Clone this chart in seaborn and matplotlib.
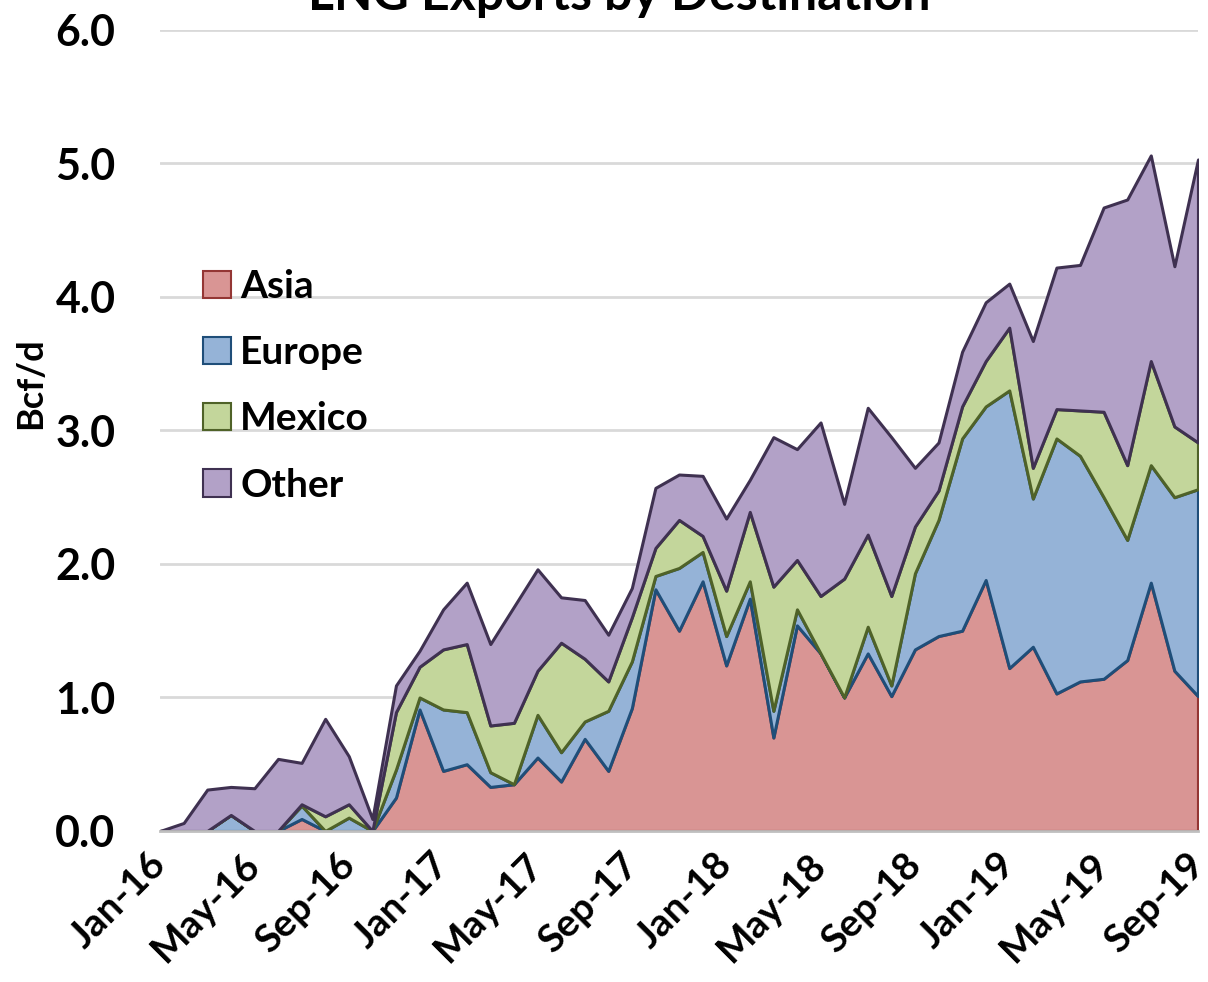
import numpy as np
import pandas as pd
import seaborn as sns
import matplotlib.pyplot as plt
from matplotlib.patches import Patch

# --- Data (Bcf/d), monthly Jan-16 .. Sep-19 ---
months = pd.date_range("2016-01-01", periods=45, freq="MS")

asia = [0, 0, 0, 0, 0, 0, 0.09, 0, 0, 0,
        0.25, 0.91, 0.45, 0.50, 0.33, 0.35, 0.55, 0.37, 0.69, 0.45,
        0.92, 1.81, 1.50, 1.87, 1.24, 1.74, 0.70, 1.54, 1.33, 1.00,
        1.33, 1.01, 1.36, 1.46, 1.50, 1.88, 1.22, 1.38, 1.03, 1.12,
        1.14, 1.28, 1.86, 1.20, 1.01]
europe = [0, 0, 0, 0.12, 0, 0, 0.10, 0, 0.10, 0,
          0.21, 0.09, 0.46, 0.39, 0.11, 0.00, 0.32, 0.22, 0.13, 0.45,
          0.35, 0.10, 0.47, 0.22, 0.22, 0.13, 0.20, 0.12, 0.00, 0.00,
          0.20, 0.08, 0.57, 0.87, 1.44, 1.30, 2.08, 1.11, 1.91, 1.69,
          1.36, 0.90, 0.88, 1.30, 1.55]
mexico = [0, 0, 0, 0, 0, 0, 0.01, 0.11, 0.10, 0,
          0.43, 0.23, 0.45, 0.51, 0.35, 0.46, 0.33, 0.82, 0.47, 0.22,
          0.33, 0.21, 0.36, 0.12, 0.34, 0.52, 0.93, 0.37, 0.43, 0.89,
          0.69, 0.67, 0.35, 0.22, 0.24, 0.34, 0.47, 0.23, 0.22, 0.34,
          0.64, 0.56, 0.78, 0.53, 0.35]
other = [0, 0.06, 0.31, 0.21, 0.32, 0.54, 0.31, 0.73, 0.36, 0.09,
         0.20, 0.12, 0.30, 0.46, 0.61, 0.87, 0.76, 0.34, 0.44, 0.35,
         0.22, 0.45, 0.34, 0.45, 0.54, 0.24, 1.12, 0.83, 1.30, 0.56,
         0.95, 1.19, 0.44, 0.36, 0.41, 0.44, 0.33, 0.95, 1.06, 1.09,
         1.53, 1.99, 1.54, 1.20, 2.12]

series_names = ["Asia", "Europe", "Mexico", "Other"]
fill_colors = ["#D99594", "#95B3D7", "#C3D69B", "#B2A1C7"]
edge_colors = ["#943634", "#1F4E79", "#4F6228", "#3F3151"]

df = pd.DataFrame({"month": months, "Asia": asia, "Europe": europe,
                   "Mexico": mexico, "Other": other})
x = np.arange(len(df))

sns.set_theme(style="white")
plt.rcParams["font.family"] = ["Lato", "DejaVu Sans"]
plt.rcParams["font.weight"] = "bold"
plt.rcParams["text.color"] = "black"
plt.rcParams["axes.labelcolor"] = "black"
plt.rcParams["xtick.color"] = "black"
plt.rcParams["ytick.color"] = "black"

fig = plt.figure(figsize=(12.08, 9.82), dpi=100)
ax = fig.add_axes([0.1325, 0.1538, 0.8592, 0.8157])

polys = ax.stackplot(x, [df[s] for s in series_names], colors=fill_colors,
                     linewidth=2.2, zorder=3)
for p, ec in zip(polys, edge_colors):
    p.set_edgecolor(ec)

ax.set_xlim(0, len(df) - 1)
ax.set_ylim(0, 6)
ax.set_yticks(np.arange(0, 6.1, 1.0))
ax.set_yticklabels([f"{v:.1f}" for v in np.arange(0, 6.1, 1.0)],
                   fontsize=31, fontweight="bold")
ax.yaxis.grid(True, color="#D9D9D9", linewidth=2)
ax.set_axisbelow(True)

ticks = x[::4]
ax.set_xticks(ticks)
ax.set_xticklabels(df["month"].dt.strftime("%b-%y").iloc[::4], rotation=45,
                   ha="right", va="center", rotation_mode="anchor",
                   fontsize=28, fontweight="bold")
ax.tick_params(axis="x", length=0, pad=20)
ax.tick_params(axis="y", length=0, pad=32)

for side in ["left", "right", "top"]:
    ax.spines[side].set_visible(False)
ax.spines["bottom"].set_color("#BFBFBF")
ax.spines["bottom"].set_linewidth(2)
ax.spines["bottom"].set_zorder(4)

ax.set_ylabel("Bcf/d", fontsize=26, fontweight="bold")
ax.yaxis.set_label_coords(-0.109, 0.559)

handles = [Patch(facecolor=fc, edgecolor=ec, linewidth=1.5, label=n)
           for n, fc, ec in zip(series_names, fill_colors, edge_colors)]
ax.legend(handles=handles, loc="upper left", bbox_to_anchor=(0.008, 0.745),
          frameon=False, handlelength=0.7, handleheight=0.7,
          handletextpad=0.25, labelspacing=0.8,
          prop={"weight": "bold", "size": 28})

fig.text(0.513, 0.99, "LNG Exports by Destination", ha="center",
         va="baseline", fontsize=36, fontweight="bold")

fig.savefig("out.png", dpi=100)
